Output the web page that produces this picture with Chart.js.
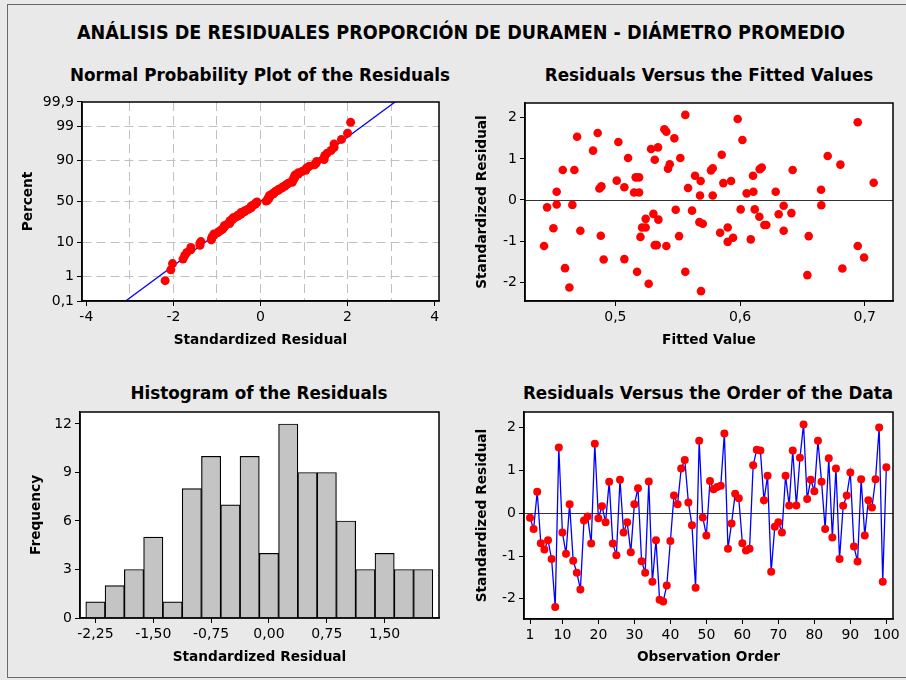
<!DOCTYPE html>
<html>
<head>
<meta charset="utf-8">
<script src="https://cdn.jsdelivr.net/npm/chart.js@4.4.1/dist/chart.umd.min.js"></script>
<style>
body{margin:0;background:#fff;}
#page{position:relative;width:906px;height:680px;background:#e9e9e9;overflow:hidden;font-family:"DejaVu Sans",sans-serif;}
#frame{position:absolute;left:7px;top:4px;width:905px;height:674px;border:1px solid #6a6a6a;box-sizing:border-box;}
.ttl{position:absolute;transform:translate(-50%,-50%);white-space:nowrap;font-weight:bold;color:#000;}
#mainTitle{left:461px;top:32px;font-size:20px;transform:translate(-50%,-50%) scaleX(0.88);}
.sub{font-size:16.8px;}
canvas{position:absolute;}
</style>
</head>
<body>
<div id="page">
<div id="frame"></div>
<div class="ttl" id="mainTitle">ANÁLISIS DE RESIDUALES PROPORCIÓN DE DURAMEN - DIÁMETRO PROMEDIO</div>
<div class="ttl sub" style="left:260px;top:75px">Normal Probability Plot of the Residuals</div>
<div class="ttl sub" style="left:709px;top:75px">Residuals Versus the Fitted Values</div>
<div class="ttl sub" style="left:259px;top:393px">Histogram of the Residuals</div>
<div class="ttl sub" style="left:708px;top:393px">Residuals Versus the Order of the Data</div>
<canvas id="normal" style="left:8px;top:90px" width="443" height="269"></canvas>
<canvas id="fitted" style="left:451px;top:91px" width="454" height="268"></canvas>
<canvas id="hist" style="left:6px;top:400px" width="445" height="276"></canvas>
<canvas id="order" style="left:450px;top:400px" width="455" height="277"></canvas>
</div>
<script>
// ================= DATA =================
// standardized residuals in observation order
const residuals=[-0.11,-0.37,0.50,-0.70,-0.85,-0.63,-1.07,-2.19,1.53,-0.45,
-0.95,0.21,-1.11,-1.39,-1.78,-0.17,-0.08,-0.71,1.62,-0.12,
0.16,-0.21,0.73,-0.71,-0.98,0.78,-0.45,-0.21,-0.91,0.21,
0.58,-1.12,-1.39,0.74,-1.60,-0.63,-2.02,-2.06,-1.69,-0.65,
0.41,0.21,1.04,1.24,0.25,-0.28,-1.74,1.69,-0.10,-0.52,
0.75,0.56,0.61,0.64,1.86,-0.83,-0.24,0.45,0.35,-0.70,
-0.87,-0.83,1.12,1.48,1.46,0.30,0.87,-1.37,-0.32,-0.21,
-0.45,0.87,0.18,1.46,0.18,1.29,2.07,0.33,0.78,0.51,
1.69,0.73,-0.37,1.28,-0.57,1.04,-1.07,0.17,0.41,0.95,
-0.78,-1.13,0.79,-0.52,0.30,0.13,0.79,2.00,-1.60,1.07];

// fitted value / residual pairs
const fittedValues=[0.4428,0.4452,0.4503,0.4529,0.4529,0.4578,0.4596,0.4631,0.4655,0.4671,
0.4693,0.4719,0.4821,0.4858,0.4872,0.4888,0.4883,0.4906,0.5011,0.5024,
0.5072,0.5072,0.5102,0.5150,0.5163,0.5174,0.5190,0.5190,0.5201,0.5214,
0.5243,0.5243,0.5267,0.5286,0.5305,0.5316,0.5316,0.5332,0.5342,0.5345,
0.5393,0.5409,0.5409,0.5422,0.5436,0.5473,0.5484,0.5511,0.5521,0.5561,
0.5561,0.5583,0.5615,0.5639,0.5679,0.5684,0.5674,0.5701,0.5687,0.5767,
0.5781,0.5781,0.5840,0.5853,0.5866,0.5901,0.5901,0.5928,0.5944,0.5981,
0.6005,0.6019,0.6053,0.6086,0.6104,0.6107,0.6118,0.6155,0.6158,0.6174,
0.6195,0.6211,0.6286,0.6310,0.6350,0.6350,0.6412,0.6422,0.6540,0.6551,
0.6650,0.6652,0.6703,0.6805,0.6821,0.6944,0.6944,0.6995,0.7072];
const fittedResiduals=[-1.12,-0.18,-0.69,0.20,-0.11,0.73,-1.66,-2.13,-0.12,0.73,
1.54,-0.75,1.20,1.63,0.28,0.33,-0.87,-1.45,0.47,1.41,
0.31,-1.44,1.02,0.18,0.55,-1.75,0.55,0.18,-0.90,-0.67,
-0.67,-0.46,-2.04,1.24,-0.34,0.98,-1.10,-1.10,1.28,-0.48,
1.72,1.66,-1.12,0.76,0.87,1.50,-0.24,-0.88,1.02,2.07,
-1.75,0.29,-0.26,0.59,0.11,0.46,-0.54,-0.58,-2.22,0.72,
0.77,0.11,-0.80,1.10,0.41,-0.67,-1.02,0.46,-0.92,1.97,
-0.23,1.46,0.16,-0.96,0.59,0.20,-0.23,-0.41,0.75,0.79,
-0.61,-0.61,0.20,-0.35,-0.14,-0.75,-0.32,0.73,-1.83,-0.88,
0.25,-0.13,1.07,0.86,-1.67,1.89,-1.12,-1.40,0.42];

// histogram bins (midpoints) and frequencies
const binCenters=[-2.25,-2,-1.75,-1.5,-1.25,-1,-0.75,-0.5,-0.25,0,0.25,0.5,0.75,1,1.25,1.5,1.75,2];
const binCounts=[1,2,3,5,1,8,10,7,10,4,12,9,9,6,3,4,3,3];

// tick labels
const probTicks=[0.1,1,10,50,90,99,99.9];
const probLabels=["0,1","1","10","50","90","99","99,9"];
const normalXTicks=[-4,-3,-2,-1,0,1,2,3,4];
const residTicks=[-2,-1,0,1,2];
const fittedTicks=[0.5,0.6,0.7];
const histTicks=[-2.25,-1.5,-0.75,0,0.75,1.5];
const countTicks=[0,3,6,9,12];
const orderTicks=[1,10,20,30,40,50,60,70,80,90,100];

// ================= HELPERS =================
// inverse normal cdf (Acklam)
function probit(p){
const a=[-3.969683028665376e+01,2.209460984245205e+02,-2.759285104469687e+02,1.383577518672690e+02,-3.066479806614716e+01,2.506628277459239e+00];
const b=[-5.447609879822406e+01,1.615858368580409e+02,-1.556989798598866e+02,6.680131188771972e+01,-1.328068155288572e+01];
const c=[-7.784894002430293e-03,-3.223964580411365e-01,-2.400758277161838e+00,-2.549732539343734e+00,4.374664141464968e+00,2.938163982698783e+00];
const d=[7.784695709041462e-03,3.224671290700398e-01,2.445134137142996e+00,3.754408661907416e+00];
const lo=0.02425;
let q,r;
if(p<lo){q=Math.sqrt(-2*Math.log(p));return (((((c[0]*q+c[1])*q+c[2])*q+c[3])*q+c[4])*q+c[5])/((((d[0]*q+d[1])*q+d[2])*q+d[3])*q+1);}
if(p>1-lo){q=Math.sqrt(-2*Math.log(1-p));return -(((((c[0]*q+c[1])*q+c[2])*q+c[3])*q+c[4])*q+c[5])/((((d[0]*q+d[1])*q+d[2])*q+d[3])*q+1);}
q=p-0.5;r=q*q;
return (((((a[0]*r+a[1])*r+a[2])*r+a[3])*r+a[4])*r+a[5])*q/(((((b[0]*r+b[1])*r+b[2])*r+b[3])*r+b[4])*r+1);
}

const comma=v=>String(v).replace(".",",");
const tickFont={family:"DejaVu Sans",size:14};
const titleFont={family:"DejaVu Sans",size:13.7,weight:"bold"};
const clear="rgba(0,0,0,0)";

function axis(o){
return {
type:"linear",min:o.min,max:o.max,offset:false,
afterBuildTicks:s=>{s.ticks=o.ticks.map(v=>({value:v}));},
afterFit:s=>{if(s.isHorizontal()) s.height=58; else s.width=74;},
ticks:{font:tickFont,color:"#000",padding:3,autoSkip:false,maxRotation:0,
callback:o.label||(v=>comma(v))},
grid:o.grid||{drawOnChartArea:false,offset:false,tickLength:5,color:"#000",lineWidth:1},
border:{display:true,color:"#000",width:1.5,dash:o.dash||[]},
title:{display:true,text:o.title,font:titleFont,color:"#000",padding:o.pad}
};
}

// white plot area, optional zero reference line, black frame
const plotBox={
id:"plotBox",
beforeDraw(chart){
const a=chart.chartArea,ctx=chart.ctx;
ctx.save();ctx.fillStyle="#fff";ctx.fillRect(a.left,a.top,a.width,a.height);ctx.restore();
},
beforeDatasetsDraw(chart,args,opts){
if(!opts.zeroLine) return;
const a=chart.chartArea,ctx=chart.ctx,y=Math.round(chart.scales.y.getPixelForValue(0))+0.5;
ctx.save();ctx.strokeStyle="#333";ctx.lineWidth=1.2;
ctx.beginPath();ctx.moveTo(a.left,y);ctx.lineTo(a.right,y);ctx.stroke();ctx.restore();
},
afterDraw(chart){
const a=chart.chartArea,ctx=chart.ctx;
ctx.save();ctx.strokeStyle="#000";ctx.lineWidth=1.5;
ctx.strokeRect(a.left,a.top,a.width,a.height);ctx.restore();
}
};

function base(zero){
return {
responsive:false,animation:false,devicePixelRatio:1,
layout:{padding:{top:12,right:12,left:0,bottom:0}},
plugins:{legend:{display:false},tooltip:{enabled:false},plotBox:{zeroLine:zero}}
};
}

// ================= NORMAL PROBABILITY PLOT =================
const n=residuals.length;
const sorted=residuals.slice().sort((p,q)=>p-q);
const probPoints=sorted.map((r,i)=>({x:r,y:probit((i+1-0.3)/(n+0.4))}));
const mean=residuals.reduce((s,v)=>s+v,0)/n;
const sd=Math.sqrt(residuals.reduce((s,v)=>s+(v-mean)*(v-mean),0)/(n-1));
const zLo=probit(0.001),zHi=probit(0.999);
const fitLine=[{x:mean+sd*zLo,y:zLo},{x:mean+sd*zHi,y:zHi}];

new Chart(document.getElementById("normal"),{
type:"scatter",
data:{datasets:[
{data:probPoints,pointRadius:4.5,pointBackgroundColor:"#ff0000",pointBorderWidth:0,order:0},
{type:"line",data:fitLine,borderColor:"#0000ff",borderWidth:1.3,pointRadius:0,order:1}
]},
options:Object.assign(base(false),{
scales:{
x:axis({min:-4.1,max:4.1,ticks:normalXTicks,title:"Standardized Residual",pad:{bottom:10},
label:v=>(v%2===0?String(v):""),dash:[9,5],
grid:{drawOnChartArea:true,tickLength:5,lineWidth:1,
color:c=>(Math.abs(c.tick.value)<3.5?"#c0c0c0":clear),
tickColor:c=>(c.tick.value%2===0?"#000":clear)}}),
y:axis({min:zLo,max:zHi,ticks:probTicks.map(p=>probit(p/100)),title:"Percent",pad:{top:12},
label:(v,i)=>probLabels[i],dash:[9,5],
grid:{drawOnChartArea:true,tickLength:5,lineWidth:1,
color:c=>(c.index>0&&c.index<probTicks.length-1?"#c0c0c0":clear),tickColor:"#000"}})
}
}),
plugins:[plotBox]
});

// ================= RESIDUALS VS FITTED =================
new Chart(document.getElementById("fitted"),{
type:"scatter",
data:{datasets:[{data:fittedValues.map((f,i)=>({x:f,y:fittedResiduals[i]})),
pointRadius:4.3,pointBackgroundColor:"#ff0000",pointBorderWidth:0}]},
options:Object.assign(base(true),{
scales:{
x:axis({min:0.4275,max:0.7227,ticks:fittedTicks,title:"Fitted Value",pad:{bottom:10}}),
y:axis({min:-2.46,max:2.36,ticks:residTicks,title:"Standardized Residual",pad:{top:23}})
}
}),
plugins:[plotBox]
});

// ================= HISTOGRAM =================
new Chart(document.getElementById("hist"),{
type:"bar",
data:{datasets:[{data:binCenters.map((x,i)=>({x:x,y:binCounts[i]})),
backgroundColor:"#c4c4c4",borderColor:"#000",borderWidth:1.2,
barPercentage:1,categoryPercentage:1,grouped:false}]},
options:Object.assign(base(false),{
scales:{
x:axis({min:-2.45,max:2.205,ticks:histTicks,title:"Standardized Residual",pad:{bottom:10},
label:v=>v.toFixed(2).replace(".",",")}),
y:axis({min:0,max:12.74,ticks:countTicks,title:"Frequency",pad:{top:22}})
}
}),
plugins:[plotBox]
});

// ================= RESIDUALS VS ORDER =================
new Chart(document.getElementById("order"),{
type:"line",
data:{datasets:[{data:residuals.map((r,i)=>({x:i+1,y:r})),
borderColor:"#0000ff",borderWidth:1.3,tension:0,
pointRadius:4,pointBackgroundColor:"#ff0000",pointBorderWidth:0}]},
options:Object.assign(base(true),{
scales:{
x:axis({min:-0.67,max:101.85,ticks:orderTicks,title:"Observation Order",pad:{bottom:11}}),
y:axis({min:-2.47,max:2.36,ticks:residTicks,title:"Standardized Residual",pad:{top:24}})
}
}),
plugins:[plotBox]
});
</script>
</body>
</html>
